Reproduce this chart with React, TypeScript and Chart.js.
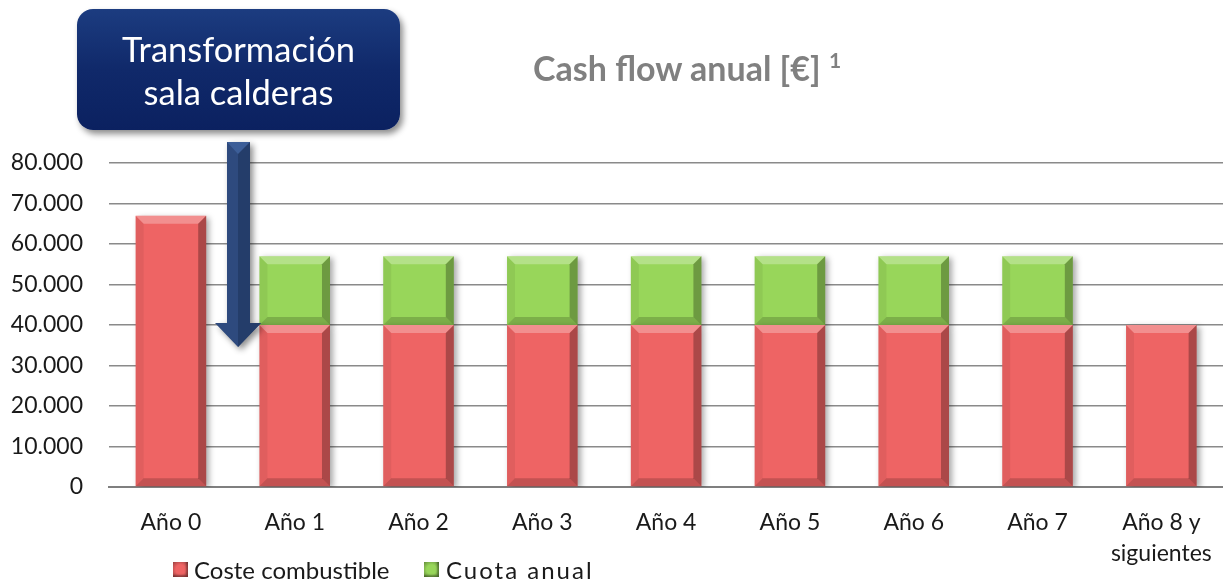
import React, { useEffect, useRef } from "react";
import { Chart, registerables } from "chart.js";

Chart.register(...registerables);

const categories: (string | string[])[] = [
  "Año 0",
  "Año 1",
  "Año 2",
  "Año 3",
  "Año 4",
  "Año 5",
  "Año 6",
  "Año 7",
  ["Año 8 y", "siguientes"],
];
const costeCombustible: (number | null)[] = [67000, 40000, 40000, 40000, 40000, 40000, 40000, 40000, 40000];
const cuotaAnual: (number | null)[] = [null, 17000, 17000, 17000, 17000, 17000, 17000, 17000, null];
const seriesNames = ["Coste combustible", "Cuota anual"];
const seriesColors = ["#EE6464", "#98D65A"];
const yMin = 0;
const yMax = 80000;
const yStep = 10000;

const fmt = (v: number) => String(v).replace(/\B(?=(\d{3})+(?!\d))/g, ".");

const bevelPlugin = {
  id: "bevel",
  beforeDatasetsDraw(chart: any) {
    const ctx = chart.ctx;
    ctx.save();
    ctx.shadowColor = "rgba(0,0,0,0.35)";
    ctx.shadowBlur = 6;
    ctx.shadowOffsetX = 3;
    ctx.shadowOffsetY = 2;
  },
  afterDatasetsDraw(chart: any) {
    const ctx = chart.ctx;
    ctx.restore();
    ctx.save();
    chart.data.datasets.forEach((ds: any, di: number) => {
      const meta = chart.getDatasetMeta(di);
      meta.data.forEach((el: any, i: number) => {
        if (ds.data[i] == null) return;
        const { x, y, base, width } = el.getProps(["x", "y", "base", "width"], true);
        const l = x - width / 2;
        const r = x + width / 2;
        const t = Math.min(y, base);
        const b = Math.max(y, base);
        const h = b - t;
        const s = Math.min(8, h / 3);
        const quad = (pts: number[][], fill: string) => {
          ctx.beginPath();
          ctx.moveTo(pts[0][0], pts[0][1]);
          for (let k = 1; k < pts.length; k++) ctx.lineTo(pts[k][0], pts[k][1]);
          ctx.closePath();
          ctx.fillStyle = fill;
          ctx.fill();
        };
        quad([[l, t], [r, t], [r - s, t + s], [l + s, t + s]], "rgba(255,255,255,0.28)");
        quad([[r, t], [r, b], [r - s, b - s], [r - s, t + s]], "rgba(0,0,0,0.28)");
        quad([[l, b], [r, b], [r - s, b - s], [l + s, b - s]], "rgba(0,0,0,0.18)");
        quad([[l, t], [l + s, t + s], [l + s, b - s], [l, b]], "rgba(0,0,0,0.06)");
      });
    });
    ctx.restore();
  },
};

export default function App() {
  const ref = useRef<HTMLCanvasElement | null>(null);
  useEffect(() => {
    if (!ref.current) return;
    const chart = new Chart(ref.current, {
      type: "bar",
      data: {
        labels: categories as any,
        datasets: [
          { label: seriesNames[0], data: costeCombustible, backgroundColor: seriesColors[0], borderWidth: 0 },
          { label: seriesNames[1], data: cuotaAnual, backgroundColor: seriesColors[1], borderWidth: 0 },
        ],
      },
      options: {
        responsive: false,
        animation: false,
        devicePixelRatio: 1,
        layout: { padding: { top: 163, right: 4, bottom: 0, left: 0 } },
        datasets: { bar: { barPercentage: 0.57, categoryPercentage: 1 } } as any,
        plugins: { legend: { display: false }, title: { display: false }, tooltip: { enabled: false } },
        scales: {
          x: {
            stacked: true,
            grid: { display: false, drawTicks: false },
            border: { display: true, color: "#7f7f7f", width: 2 },
            ticks: { color: "#1a1a1a", font: { family: "Lato", size: 23, lineHeight: 1.35 }, padding: 20, maxRotation: 0, autoSkip: false },
            afterFit: (s: any) => { s.height = 93; },
          },
          y: {
            stacked: true,
            min: yMin,
            max: yMax,
            grid: { color: "#8a8a8a", lineWidth: 1.5, drawTicks: false },
            border: { display: false },
            ticks: { stepSize: yStep, color: "#1a1a1a", font: { family: "Lato", size: 23 }, padding: 26, callback: (v: any) => fmt(Number(v)) },
            afterFit: (s: any) => { s.width = 109; },
          },
        },
      },
      plugins: [bevelPlugin],
    });
    return () => chart.destroy();
  }, []);

  const legendBox = (c: string): React.CSSProperties => ({
    position: "absolute",
    width: 15,
    height: 15,
    background: `radial-gradient(circle at 50% 50%, ${c} 45%, rgba(0,0,0,0.35) 100%), ${c}`,
    boxShadow: "inset -2px -2px 2px rgba(0,0,0,0.3)",
  });

  return (
    <div style={{ position: "absolute", left: 0, top: 0, width: 1223, height: 580, overflow: "hidden", background: "#fff", fontFamily: "Lato" }}>
      <canvas ref={ref} width={1232} height={580} style={{ position: "absolute", left: 0, top: 0 }} />
      <div style={{ position: "absolute", left: 533, top: 47, fontSize: 34, lineHeight: "41px", fontWeight: 700, color: "#808080", whiteSpace: "nowrap" }}>
        Cash flow anual [€]{" "}
        <span style={{ fontSize: 21, position: "relative", top: -13 }}>1</span>
      </div>
      <div
        style={{
          position: "absolute",
          left: 77,
          top: 9,
          width: 323,
          height: 121,
          borderRadius: 16,
          background: "linear-gradient(#1c3c80 0%, #10296a 50%, #0b2160 100%)",
          boxShadow: "3px 4px 6px rgba(0,0,0,0.45)",
          color: "#fff",
          fontSize: 34.5,
          lineHeight: "43px",
          textAlign: "center",
          display: "flex",
          flexDirection: "column",
          justifyContent: "center",
        }}
      >
        <div>Transformación</div>
        <div>sala calderas</div>
      </div>
      <svg width={60} height={220} style={{ position: "absolute", left: 210, top: 138, overflow: "visible", filter: "drop-shadow(3px 3px 3px rgba(0,0,0,0.45))" }}>
        <polygon points="17,4 40,4 40,185 51,185 28,209 5,185 17,185" fill="#2e4a7e" />
        <polygon points="28,4 40,4 40,185 51,185 28,209" fill="#243d6a" />
        <polygon points="17,4 40,4 28,16" fill="#3c5e98" />
      </svg>
      <div style={{ ...legendBox(seriesColors[0]), left: 173, top: 562 }} />
      <div style={{ position: "absolute", left: 194, top: 555, fontSize: 24, lineHeight: "29px", color: "#1a1a1a", whiteSpace: "nowrap" }}>{seriesNames[0]}</div>
      <div style={{ ...legendBox(seriesColors[1]), left: 424, top: 562 }} />
      <div style={{ position: "absolute", left: 446, top: 555, fontSize: 24, lineHeight: "29px", letterSpacing: 2, color: "#1a1a1a", whiteSpace: "nowrap" }}>{seriesNames[1]}</div>
    </div>
  );
}
